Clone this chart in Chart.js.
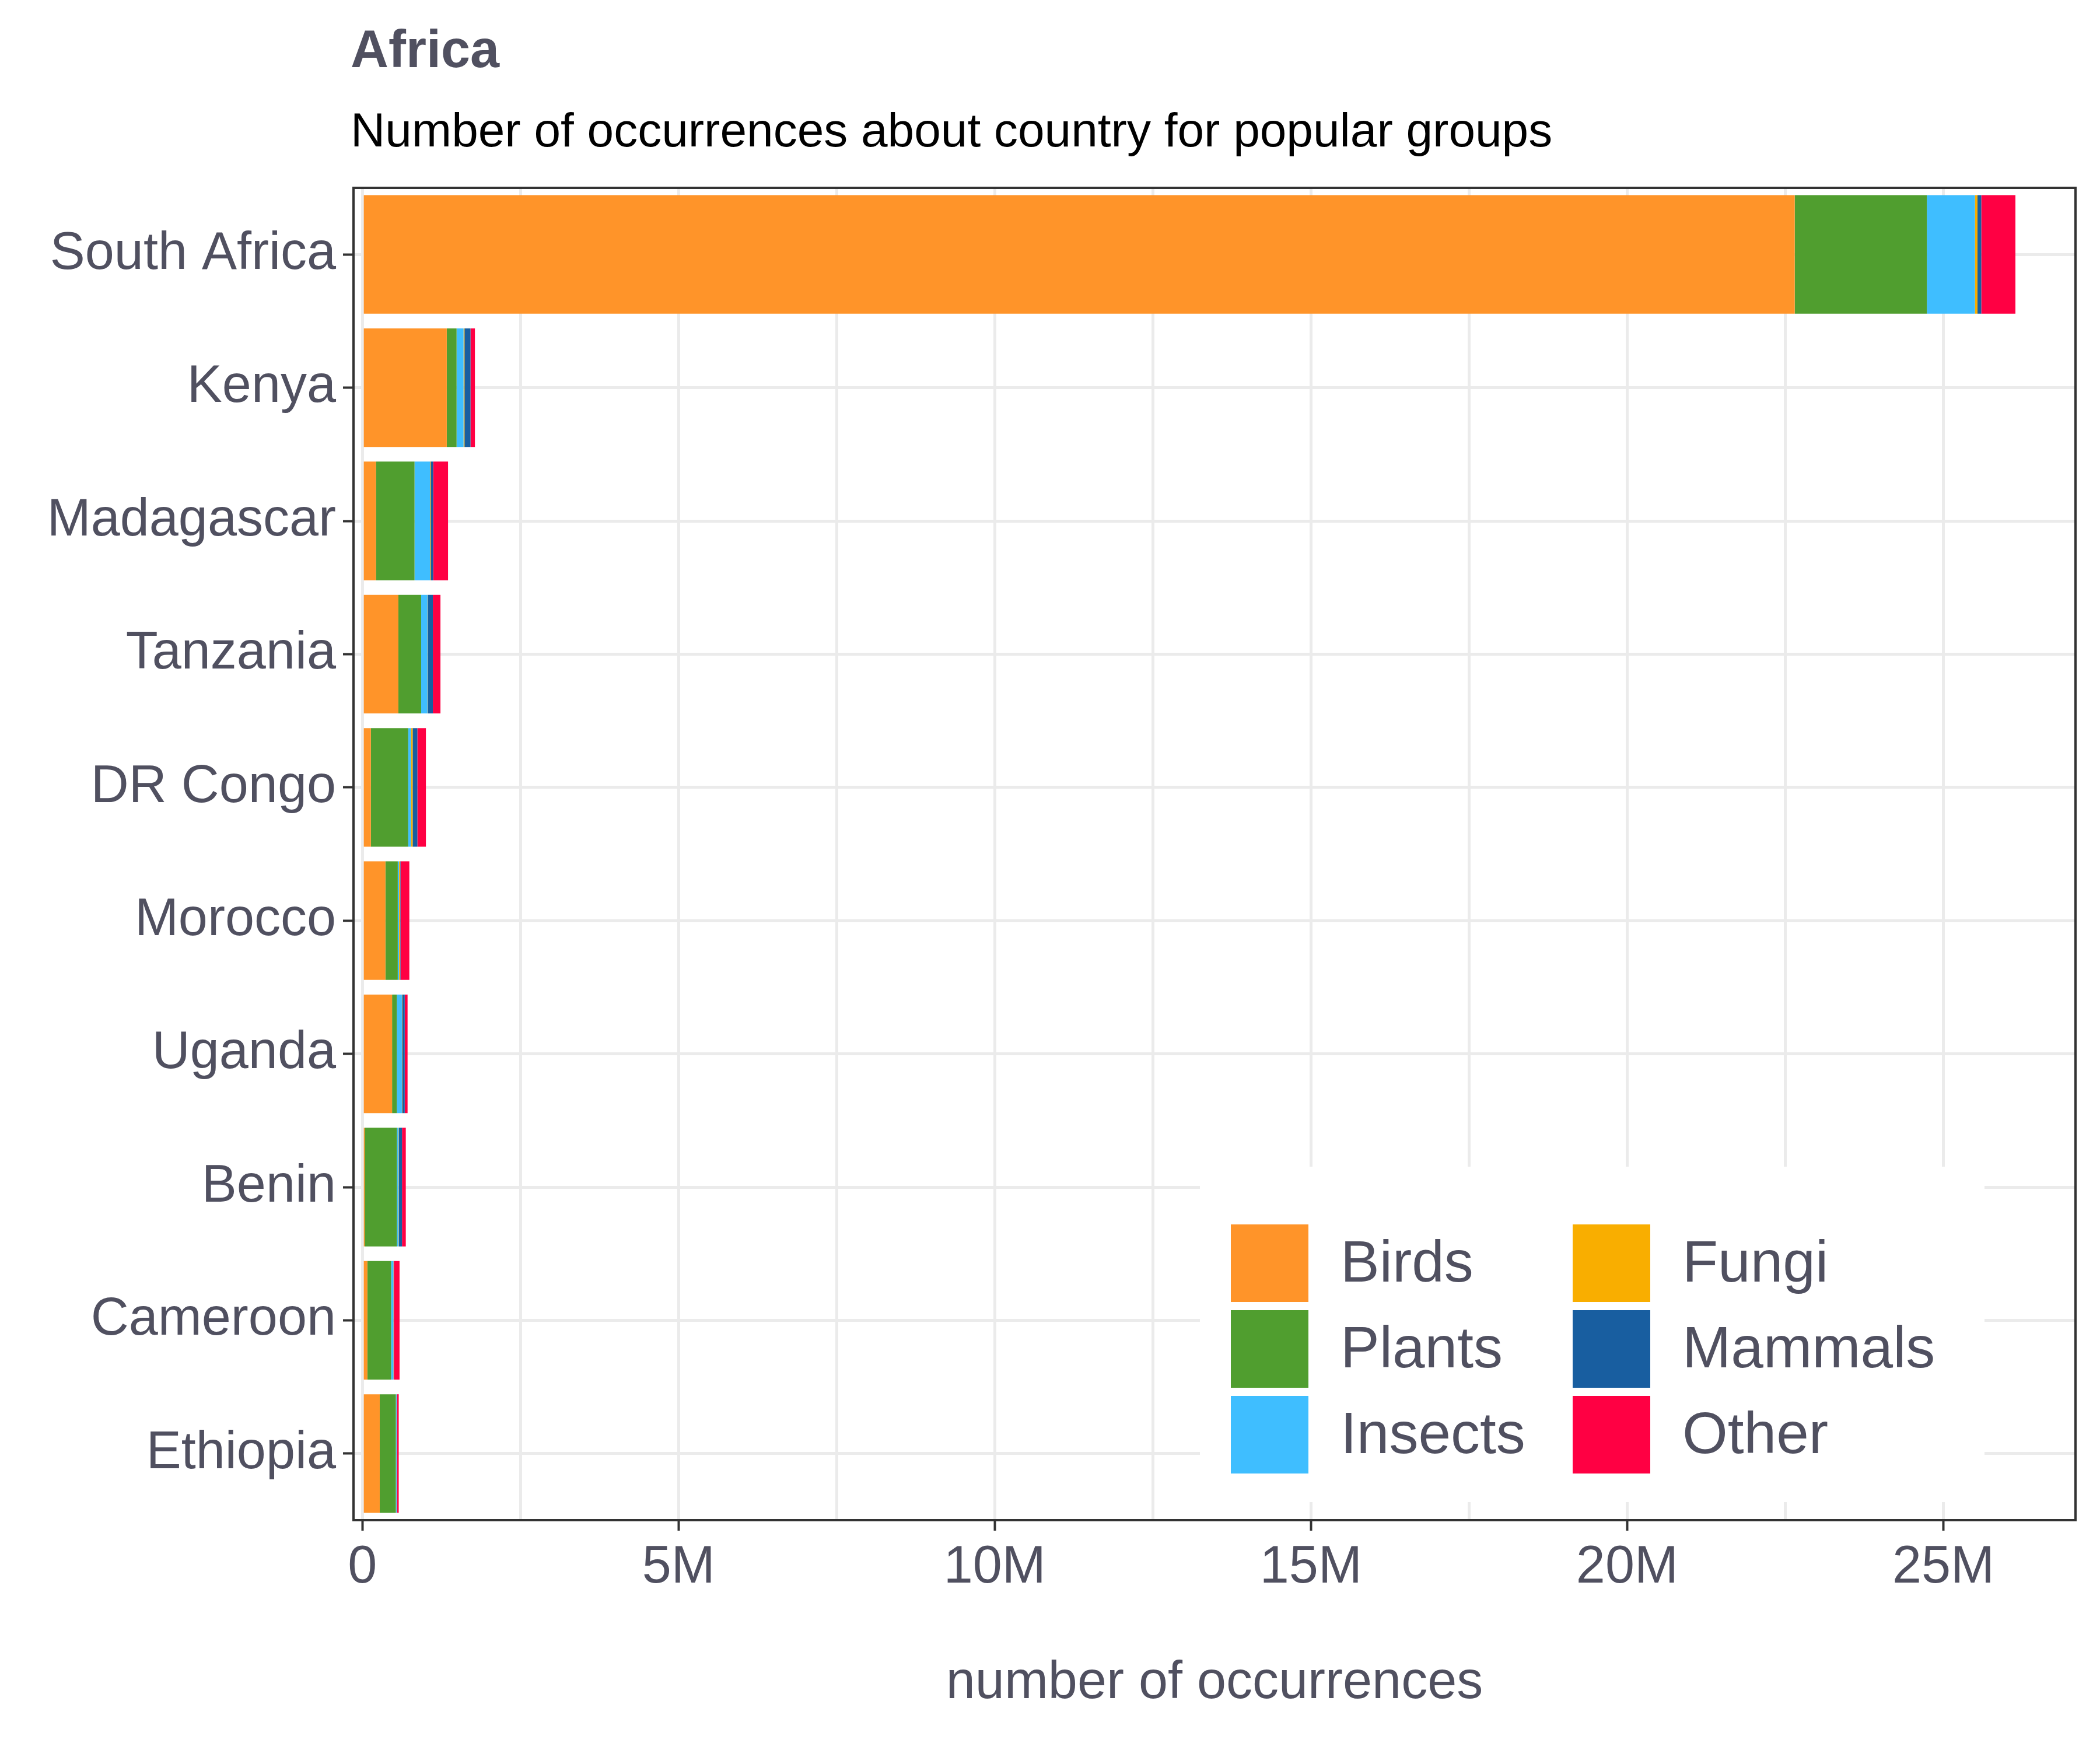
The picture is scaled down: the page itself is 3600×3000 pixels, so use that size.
<!DOCTYPE html>
<html>
<head>
<title>Africa</title>
<script src="https://cdn.jsdelivr.net/npm/chart.js"></script>
<style>body{margin:0;background:#fff}</style>
</head>
<body>
<canvas id="myChart" width="3600" height="3000" style="width:3600px;height:3000px"></canvas>
<script>
var countries = ['South Africa','Kenya','Madagascar','Tanzania','DR Congo','Morocco','Uganda','Benin','Cameroon','Ethiopia'];
// values in occurrences
var birds   = [22650000, 1335000, 215000, 570000, 135000, 365000, 470000, 37000, 80000, 275000];
var plants  = [ 2090000,  155000, 610000, 360000, 590000, 195000,  75000, 510000, 375000, 255000];
var insects = [  760000,  110000, 245000, 100000,  45000,  20000,  80000, 25000, 35000, 12000];
var fungi   = [   40000,   15000,  10000,   5000,  25000,  18000,   5000, 5000, 3000, 5000];
var mammals = [   60000,   95000,  40000,  80000,  75000,   5000,  40000, 50000, 5000, 3000];
var other   = [  540000,   70000, 235000, 120000, 135000, 140000,  45000, 60000, 90000, 25000];
var groups  = ['Birds','Plants','Insects','Fungi','Mammals','Other'];
var colors  = ['#FF9429','#509E2F','#3FBEFF','#F9AE00','#185EA0','#FF0043'];
var xTicks  = [0, 2500000, 5000000, 7500000, 10000000, 12500000, 15000000, 17500000, 20000000, 22500000, 25000000];

var series = [birds, plants, insects, fungi, mammals, other];
var ink = '#505060';
var font = 'Arial, "Liberation Sans", sans-serif';

var extras = {
    id: 'extras',
    afterDraw: function(chart) {
        var c = chart.ctx, a = chart.chartArea;
        c.save();
        c.strokeStyle = '#333333';
        c.lineWidth = 4;
        c.strokeRect(a.left, a.top, a.right - a.left, a.bottom - a.top);
        // titles
        c.textAlign = 'left';
        c.textBaseline = 'middle';
        c.fillStyle = ink;
        c.font = 'bold 90px ' + font;
        c.fillText('Africa', 601, 90);
        c.fillStyle = '#000';
        c.font = '82px ' + font;
        c.fillText('Number of occurrences about country for popular groups', 601, 228);
        // legend
        c.fillStyle = '#fff';
        c.fillRect(2057, 2000, 1345, 575);
        c.font = '100px ' + font;
        for (var i = 0; i < groups.length; i++) {
            var col = Math.floor(i / 3), row = i % 3;
            var x = 2110 + col * 586, y = 2099 + row * 147;
            c.fillStyle = colors[i];
            c.fillRect(x, y, 133, 133);
            c.fillStyle = ink;
            c.fillText(groups[i], x + 188, y + 70);
        }
        c.restore();
    }
};

var ctx = document.getElementById('myChart').getContext('2d');
var myChart = new Chart(ctx, {
    type: 'bar',
    data: {
        labels: countries,
        datasets: series.map(function(d, i) {
            return { label: groups[i], data: d, backgroundColor: colors[i], borderWidth: 0,
                     barPercentage: 0.89, categoryPercentage: 1 };
        })
    },
    options: {
        indexAxis: 'y',
        responsive: false,
        animation: false,
        devicePixelRatio: 1,
        layout: { padding: { top: 322, right: 42, left: 10, bottom: 60 } },
        plugins: { legend: { display: false }, title: { display: false }, tooltip: { enabled: false } },
        scales: {
            x: {
                stacked: true,
                min: -140000,
                max: 27090000,
                afterBuildTicks: function(axis) { axis.ticks = xTicks.map(function(v) { return { value: v }; }); },
                ticks: {
                    color: ink, font: { size: 90, family: font }, padding: 10,
                    callback: function(v) { return v % 5000000 === 0 ? (v === 0 ? '0' : (v / 1000000) + 'M') : ''; }
                },
                grid: { color: '#EBEBEB', lineWidth: 5, tickLength: 18, tickColor: function(c) { return c.tick && c.tick.value % 5000000 === 0 ? '#333' : 'rgba(0,0,0,0)'; }, tickWidth: 4 },
                border: { display: false },
                title: { display: true, text: 'number of occurrences', color: ink, font: { size: 90, family: font }, padding: { top: 80, bottom: 0 } }
            },
            y: {
                stacked: true,
                afterFit: function(axis) { axis.width = 596; },
                ticks: { color: ink, font: { size: 90, family: font }, padding: 12 },
                grid: { color: '#EBEBEB', lineWidth: 5, offset: false, tickLength: 18, tickColor: '#333', tickWidth: 4 },
                border: { display: false }
            }
        }
    },
    plugins: [extras]
});
</script>
</body>
</html>
